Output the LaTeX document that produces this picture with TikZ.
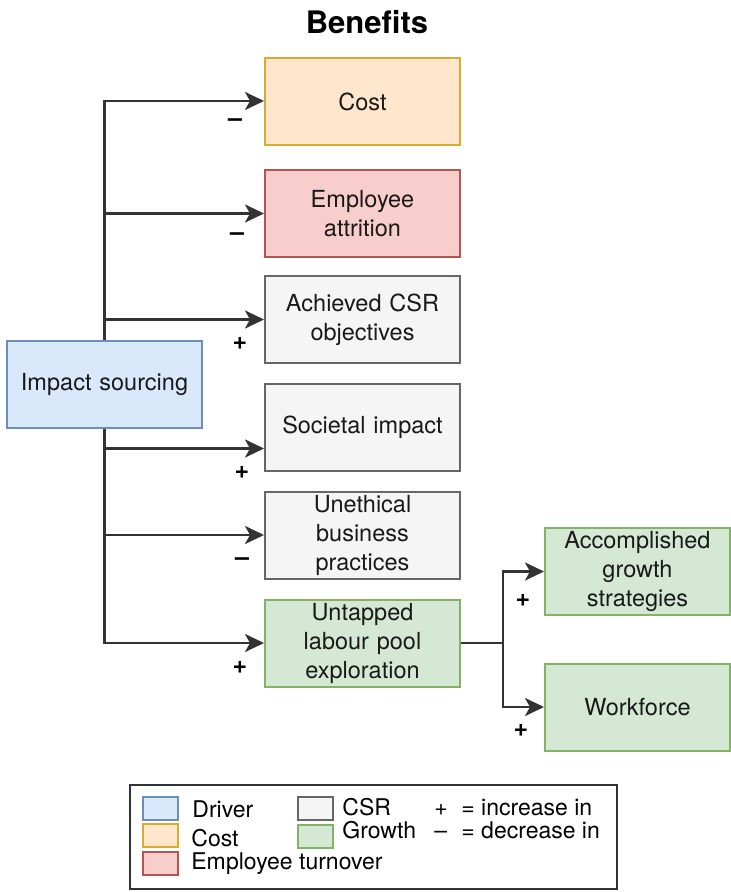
\documentclass[tikz,border=0pt]{standalone}
\usepackage{fontspec}
\setmainfont{TeX Gyre Heros}
\usetikzlibrary{arrows.meta, calc}

\definecolor{drvfill}{HTML}{DAE8FC}\definecolor{drvline}{HTML}{6C8EBF}
\definecolor{costfill}{HTML}{FFE6CC}\definecolor{costline}{HTML}{D9AC30}
\definecolor{empfill}{HTML}{F8CECC}\definecolor{empline}{HTML}{B85450}
\definecolor{csrfill}{HTML}{F5F5F5}\definecolor{csrline}{HTML}{666666}
\definecolor{grofill}{HTML}{D5E8D4}\definecolor{groline}{HTML}{82B366}
\definecolor{ink}{HTML}{333333}

\tikzset{
  box/.style={draw, line width=1pt, minimum width=97.5pt, minimum height=43.5pt,
    inner sep=0pt, text width=90pt, align=center, text=black!90,
    font=\fontsize{11.75}{14.5}\selectfont},
  driverbox/.style={box, fill=drvfill, draw=drvline},
  costbox/.style={box, fill=costfill, draw=costline},
  empbox/.style={box, fill=empfill, draw=empline},
  csrbox/.style={box, fill=csrfill, draw=csrline},
  growbox/.style={box, fill=grofill, draw=groline},
  flow/.style={draw=ink, line width=1.4pt, -{Stealth[length=9.5pt,width=9pt,inset=2.5pt]}},
  sign/.style={inner sep=0pt, font=\bfseries\fontsize{12.5}{13}\selectfont},
  swatch/.style={draw, line width=1pt, minimum width=17.5pt, minimum height=11.5pt, inner sep=0pt},
  legtext/.style={anchor=base west, inner sep=0pt, font=\fontsize{11.5}{13}\selectfont}
}

\begin{document}
\begin{tikzpicture}[x=0.5pt, y=-0.5pt]
  \useasboundingbox (0,0) rectangle (731,892);
  \node[font=\bfseries\fontsize{15.5}{18}\selectfont] (title) at (367,22) {Benefits};

  % driver and benefits
  \node[driverbox] (impact) at (104.5,384.5) {Impact sourcing};
  \node[costbox] (cost) at (362.5,102) {Cost};
  \node[empbox] (attrition) at (362.5,213.5) {Employee\\attrition};
  \node[csrbox] (csr) at (362.5,319.5) {Achieved CSR\\objectives};
  \node[csrbox] (societal) at (362.5,427.5) {Societal impact};
  \node[csrbox] (unethical) at (362.5,535) {Unethical\\business\\practices};
  \node[growbox] (untapped) at (362.5,643) {Untapped\\labour pool\\exploration};
  \node[growbox, minimum width=92.5pt] (accomp) at (637.5,571.5) {Accomplished\\growth\\strategies};
  \node[growbox, minimum width=92.5pt] (workforce) at (637.5,707) {Workforce};

  % connectors
  \draw[flow] (impact.north) |- ([yshift=0.5pt]cost.west);
  \draw[flow] (impact.north) |- (attrition.west);
  \draw[flow] (impact.north) |- (csr.west);
  \draw[flow] (impact.south) |- ([yshift=-10.5pt]societal.west);
  \draw[flow] (impact.south) |- (unethical.west);
  \draw[flow] (impact.south) |- (untapped.west);
  \draw[flow] (untapped.east) -- ++(42,0) coordinate (split) |- (accomp.west);
  \draw[flow] (split) |- (workforce.west);

  % signs
  \node[sign] (s1) at (235,123) {–};
  \node[sign] (s2) at (237,237) {–};
  \node[sign] (s3) at (240,343) {+};
  \node[sign] (s4) at (242,472) {+};
  \node[sign] (s5) at (242,562) {–};
  \node[sign] (s6) at (240,667) {+};
  \node[sign] (s7) at (523,600) {+};
  \node[sign] (s8) at (521,730) {+};

  % legend
  \draw[ink, line width=1pt] (130,785) rectangle (617,889);
  \node[swatch, fill=drvfill, draw=drvline] (kdrv) at (160.5,808.5) {};
  \node[swatch, fill=costfill, draw=costline] (kcost) at (160.5,835.5) {};
  \node[swatch, fill=empfill, draw=empline] (kemp) at (160.5,863) {};
  \node[swatch, fill=csrfill, draw=csrline] (kcsr) at (315,808.5) {};
  \node[swatch, fill=grofill, draw=groline] (kgrow) at (315,836) {};
  \node[legtext] (tdrv) at (192,817) {Driver};
  \node[legtext] (tcost) at (191,846) {Cost};
  \node[legtext] (temp) at (191,869) {Employee turnover};
  \node[legtext] (tcsr) at (342,815) {CSR};
  \node[legtext] (tgrow) at (342,838) {Growth};
  \node[legtext] (tplus) at (434,815) {+};
  \node[legtext] (tinc) at (461,815) {= increase in};
  \node[legtext] (tminus) at (434,838) {–};
  \node[legtext] (tdec) at (461,838) {= decrease in};
\end{tikzpicture}
\end{document}
